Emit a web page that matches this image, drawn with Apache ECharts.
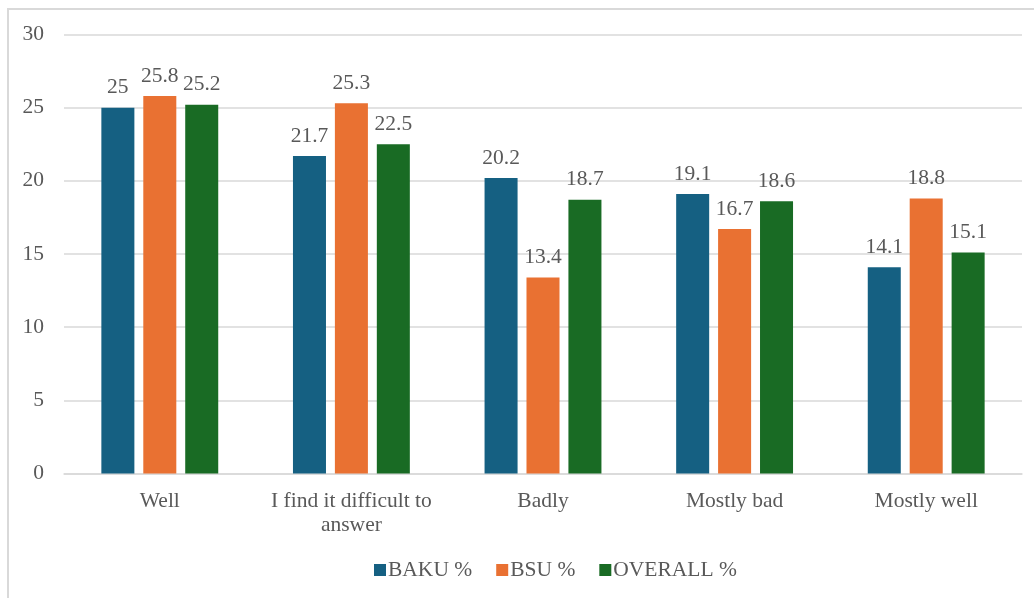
<!DOCTYPE html>
<html>
<head>
<meta charset="utf-8">
<script src="https://cdn.jsdelivr.net/npm/echarts@6/dist/echarts.min.js"></script>
<style>
  html, body { margin: 0; padding: 0; background: #fff; }
  #main { width: 1034px; height: 598px; }
</style>
</head>
<body>
<div id="main"></div>
<script>
    // categories and series values
    var categories = ['Well', 'I find it difficult to answer', 'Badly', 'Mostly bad', 'Mostly well'];
    var bakuValues = [25, 21.7, 20.2, 19.1, 14.1];
    var bsuValues = [25.8, 25.3, 13.4, 16.7, 18.8];
    var overallValues = [25.2, 22.5, 18.7, 18.6, 15.1];
    var seriesNames = ['BAKU %', 'BSU %', 'OVERALL %'];
    var colors = ['#156082', '#E97132', '#196B24'];

    var font = 'Liberation Serif, Times New Roman, serif';
    var textColor = '#595959';
    var fs = 21.5;

    var myChart = echarts.init(document.getElementById('main'));

    function makeSeries(name, data) {
        return {
            name: name,
            type: 'bar',
            data: data,
            barGap: '27%',
            barCategoryGap: '39%',
            label: {
                show: true,
                position: 'top',
                distance: 9,
                fontFamily: font,
                fontSize: fs,
                color: textColor
            }
        };
    }

    var option = {
        color: colors,
        animation: false,
        grid: {
            left: 64,
            right: 12,
            top: 34.5,
            bottom: 124.5
        },
        graphic: [{
            type: 'rect',
            shape: { x: 8, y: 9, width: 1060, height: 620 },
            style: { fill: 'none', stroke: '#d9d9d9', lineWidth: 2 },
            silent: true
        }],
        legend: {
            top: 554,
            left: 369,
            itemWidth: 12,
            itemHeight: 12,
            itemGap: 24,
            icon: 'rect',
            textStyle: { fontFamily: font, fontSize: fs, color: textColor, padding: [0, 0, 0, -3] },
            data: seriesNames
        },
        xAxis: {
            type: 'category',
            data: categories,
            axisLine: { lineStyle: { color: '#d9d9d9', width: 1.5 } },
            axisTick: { show: false },
            axisLabel: {
                fontFamily: font,
                fontSize: fs,
                color: textColor,
                margin: 16,
                lineHeight: 24,
                interval: 0,
                formatter: function (v) {
                    return v === 'I find it difficult to answer' ? 'I find it difficult to\nanswer' : v;
                }
            }
        },
        yAxis: {
            type: 'value',
            min: 0,
            max: 30,
            interval: 5,
            axisLine: { show: false },
            axisTick: { show: false },
            splitLine: { lineStyle: { color: '#d9d9d9', width: 1.5 } },
            axisLabel: {
                fontFamily: font,
                fontSize: fs,
                color: textColor,
                margin: 20
            }
        },
        series: [
            makeSeries(seriesNames[0], bakuValues),
            makeSeries(seriesNames[1], bsuValues),
            makeSeries(seriesNames[2], overallValues)
        ]
    };

    myChart.setOption(option);
</script>
</body>
</html>
